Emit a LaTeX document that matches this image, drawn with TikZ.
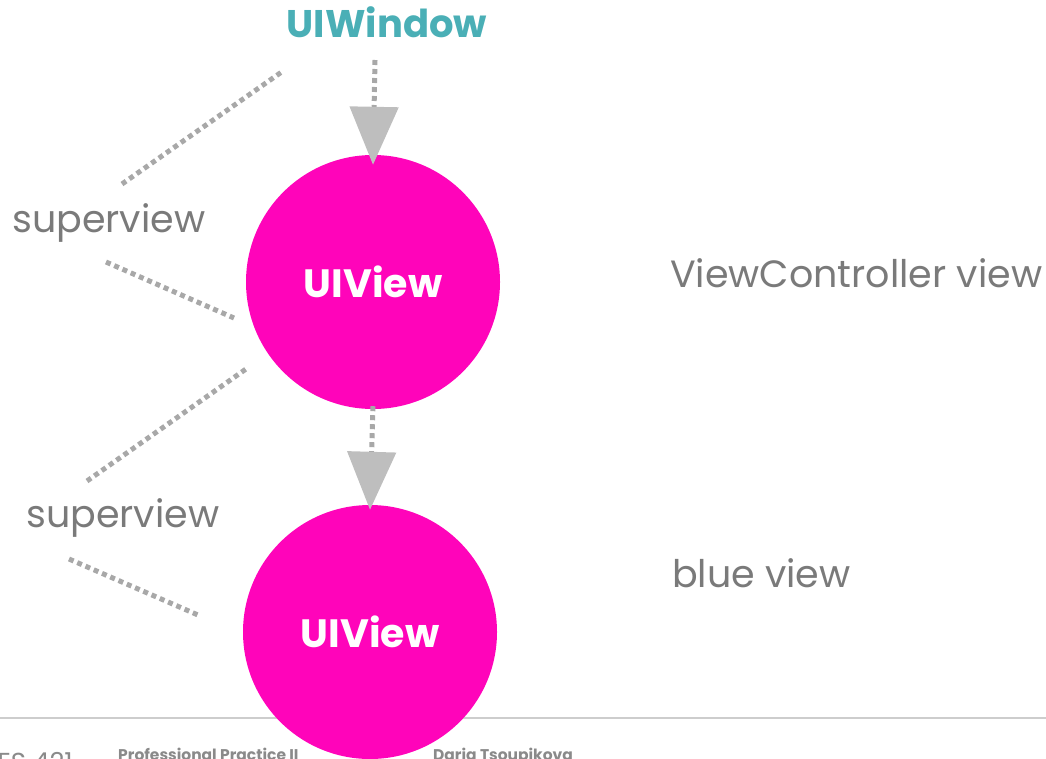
\documentclass[tikz,border=0pt]{standalone}
\usepackage{fontspec}
\setmainfont{Poppins}
\usetikzlibrary{arrows.meta}

\definecolor{viewpink}{HTML}{FF04BA}
\definecolor{windowteal}{HTML}{4AAFB6}
\definecolor{labelgray}{HTML}{7A7A7A}
\definecolor{dotgray}{HTML}{A8A8A8}
\definecolor{tipgray}{HTML}{BEBEBE}
\definecolor{rulegray}{HTML}{CDCDCD}
\definecolor{footgray}{HTML}{8A8A8A}

\begin{document}
\begin{tikzpicture}[x=1pt,y=-1pt,
  label text/.style={text=labelgray, inner sep=0pt, anchor=base west,
    font=\fontsize{38}{42}\selectfont},
  viewdots/.style={draw=dotgray, line width=5pt, dash pattern=on 5pt off 4pt},
  hierarchy link/.style={viewdots,
    -{Triangle[width=48pt,length=58pt,color=tipgray,fill=tipgray]}},
  view circle/.style={circle, fill=viewpink, minimum size=254pt, inner sep=0pt,
    text=white, font=\bfseries\fontsize{39.5}{44}\selectfont},
  footer text/.style={text=footgray, inner sep=0pt, anchor=base west,
    font=\bfseries\fontsize{15.5}{17}\selectfont},
]
\useasboundingbox (0,0) rectangle (1046,758);

% footer rule and footer texts (behind the lower circle)
\coordinate (ruleL) at (0,718);
\coordinate (ruleR) at (1046,718);
\draw[rulegray, line width=2.5pt] (ruleL) -- (ruleR);
\node[text=footgray, inner sep=0pt, anchor=base east,
  font=\fontsize{26}{28}\selectfont] (course) at (73,771) {DES 421};
\node[footer text] (subject) at (118,760.5) {Professional Practice II};
\node[footer text] (author) at (433,760.5) {Daria Tsoupikova};

% window title
\node[text=windowteal, inner sep=0pt, anchor=base,
  font=\bfseries\fontsize{38.5}{42}\selectfont] (win) at (387,37) {UIWindow};

% the two views
\node[view circle] (v1) at (373,282) {UIView};
\node[view circle] (v2) at (370,632) {UIView};

% hierarchy arrows
\coordinate (win-out) at (375,60);
\draw[hierarchy link] (win-out) -- ([yshift=-10pt]v1.north);
\draw[hierarchy link] ([yshift=3pt]v1.south) -- ([yshift=-5pt]v2.north);

% labels
\node[label text] (sup1) at (12,232) {superview};
\node[label text] (sup2) at (26,527) {superview};
\node[label text] (vcview) at (670,287) {ViewController view};
\node[label text] (blueview) at (672,587) {blue view};

% dotted pointer lines around the superview labels
\coordinate (p1a) at (122,184); \coordinate (p1b) at (283,71);
\coordinate (p2a) at (106,262); \coordinate (p2b) at (234,318);
\coordinate (p3a) at (87,481);  \coordinate (p3b) at (246,369);
\coordinate (p4a) at (69,559);  \coordinate (p4b) at (198,615);
\draw[viewdots] (p1a) -- (p1b);
\draw[viewdots] (p2a) -- (p2b);
\draw[viewdots] (p3a) -- (p3b);
\draw[viewdots] (p4a) -- (p4b);
\end{tikzpicture}
\end{document}
